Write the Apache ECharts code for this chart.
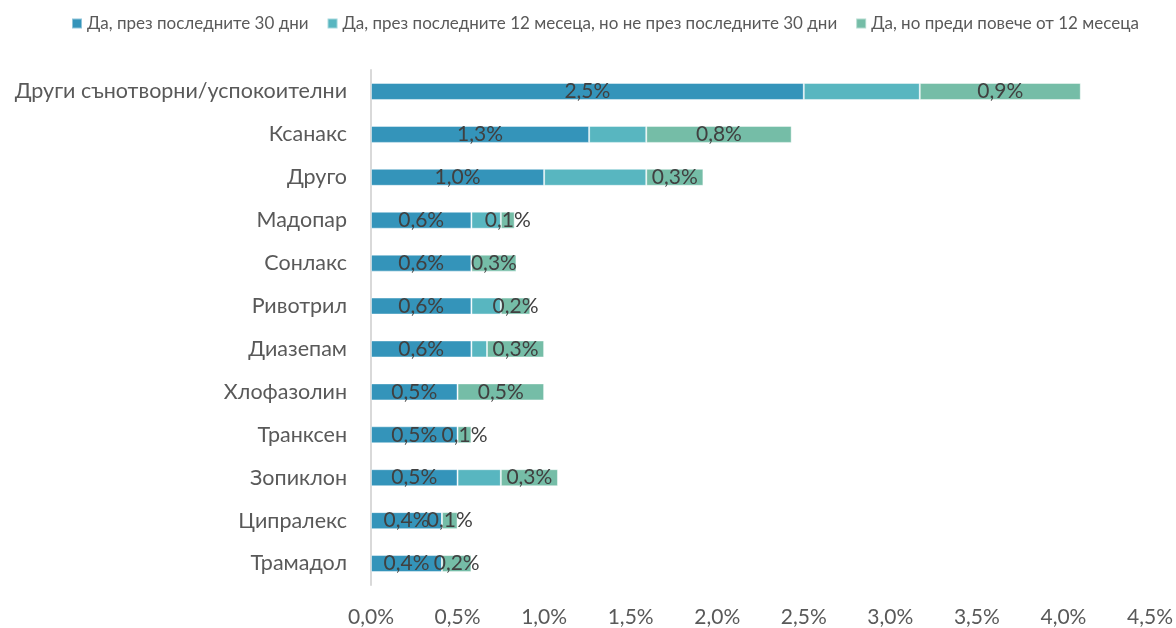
<!DOCTYPE html>
<html>
<head>
<meta charset="utf-8">
<script src="https://cdn.jsdelivr.net/npm/echarts@6/dist/echarts.min.js"></script>
<style>html,body{margin:0;padding:0;background:#fff}#c{width:1176px;height:628px}</style>
</head>
<body>
<div id="c"></div>
<script>
const categories = ['Други сънотворни/успокоителни','Ксанакс','Друго','Мадопар','Сонлакс','Ривотрил','Диазепам','Хлофазолин','Транксен','Зопиклон','Ципралекс','Трамадол'];
const seriesNames = ['Да, през последните 30 дни','Да, през последните 12 месеца, но не през последните 30 дни','Да, но преди повече от 12 месеца'];
const last30 = [2.50, 1.26, 1.00, 0.58, 0.58, 0.58, 0.58, 0.50, 0.50, 0.50, 0.41, 0.41];
const last12 = [0.67, 0.33, 0.59, 0.17, 0.00, 0.17, 0.09, 0.00, 0.00, 0.25, 0.00, 0.00];
const earlier = [0.93, 0.84, 0.33, 0.08, 0.26, 0.17, 0.33, 0.50, 0.08, 0.33, 0.09, 0.17];
const xTicks = [0, 0.5, 1, 1.5, 2, 2.5, 3, 3.5, 4, 4.5];

const FONT = 'Lato';
const fmt = v => v.toFixed(1).replace('.', ',') + '%';
const colors = ['#3494BA', '#58B6C0', '#75BDA7'];
const dataLabel = {
  show: true, position: 'inside', color: '#404040', fontSize: 21, fontFamily: FONT,
  formatter: p => fmt(p.value)
};
function mk(name, data, color, label) {
  return {
    name, type: 'bar', stack: 'total', data, barWidth: 17,
    itemStyle: { color, borderColor: 'rgba(255,255,255,0.45)', borderWidth: 1 },
    label: label ? dataLabel : { show: false },
    emphasis: { disabled: true }
  };
}
const chart = echarts.init(document.getElementById('c'), null, { renderer: 'canvas' });
chart.setOption({
  animation: false,
  color: colors,
  textStyle: { fontFamily: FONT },
  legend: {
    top: 10, left: 66, itemWidth: 10, itemHeight: 10, itemGap: 18, icon: 'rect',
    textStyle: { color: '#595959', fontSize: 17, fontFamily: FONT },
    data: seriesNames
  },
  grid: { left: 371, right: 24, top: 70, bottom: 42, containLabel: false },
  xAxis: {
    type: 'value', min: xTicks[0], max: xTicks[xTicks.length - 1], interval: xTicks[1] - xTicks[0],
    axisLine: { show: false }, axisTick: { show: false }, splitLine: { show: false },
    axisLabel: { color: '#595959', fontSize: 21, fontFamily: FONT, margin: 22, formatter: v => fmt(v) }
  },
  yAxis: {
    type: 'category', data: categories, inverse: true,
    axisLine: { show: true, lineStyle: { color: '#D9D9D9', width: 2 } },
    axisTick: { show: false },
    axisLabel: { color: '#595959', fontSize: 21.5, fontFamily: FONT, margin: 24 }
  },
  series: [
    mk(seriesNames[0], last30, colors[0], true),
    mk(seriesNames[1], last12, colors[1], false),
    mk(seriesNames[2], earlier, colors[2], true)
  ]
});
</script>
</body>
</html>
